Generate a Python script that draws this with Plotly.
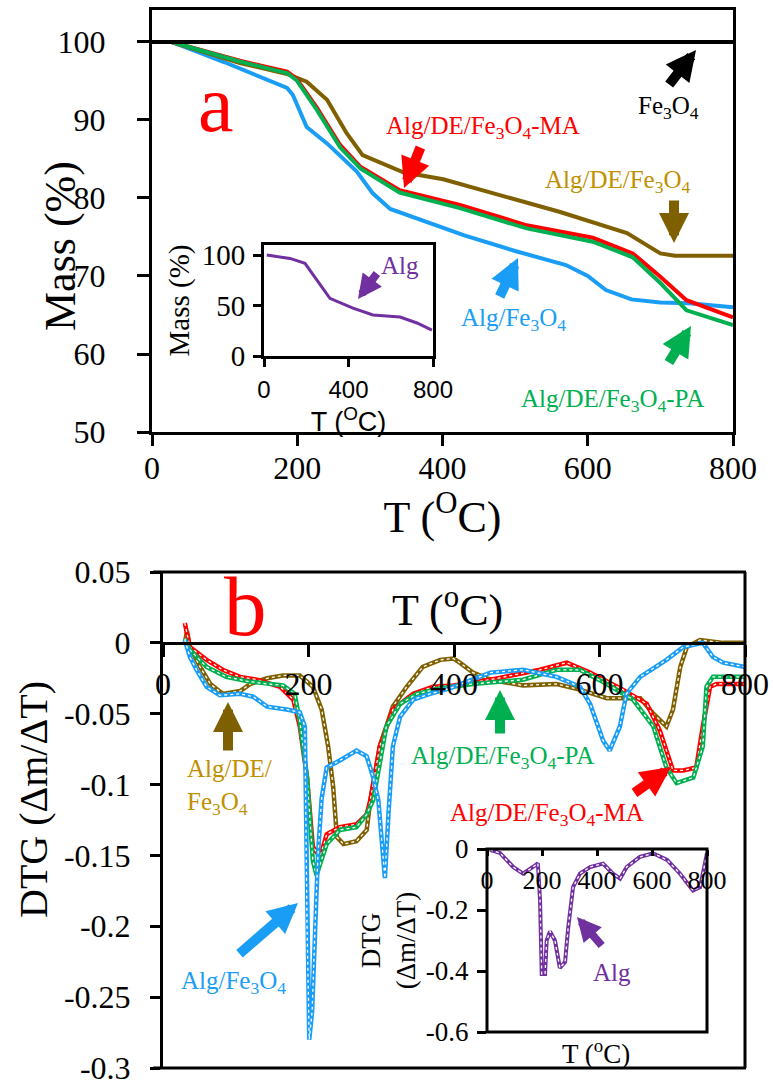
import plotly.graph_objects as go

W, H = 773, 1082


def fx(p):
    return p / W


def fy(p):
    return 1 - p / H


# ---------------- data: panel a (TGA, Mass %) ----------------
T_fe = [0, 100, 200, 300, 400, 500, 600, 700, 800]
M_fe = [100, 100, 100, 100, 100, 100, 100, 100, 100]

T_blue_a = [27, 100, 186, 194, 213, 241, 282, 304, 328, 380, 430, 500, 570, 600, 625, 660, 700, 740, 800]
M_blue_a = [100, 97.4, 94.1, 93.2, 89.1, 87.0, 83.4, 80.6, 78.6, 76.8, 75.2, 73.2, 71.4, 70.0, 68.2, 67.0, 66.6, 66.5, 66.0]

T_brown_a = [27, 121, 186, 213, 241, 268, 290, 346, 401, 470, 562, 654, 700, 720, 800]
M_brown_a = [100, 97.3, 95.9, 94.9, 92.6, 88.3, 85.5, 83.3, 82.4, 80.6, 78.2, 75.5, 72.9, 72.6, 72.6]

T_rg_a = [27, 121, 186, 199, 227, 259, 287, 341, 424, 516, 607, 662, 700, 736, 800]
M_red_a = [100, 97.6, 96.2, 95.3, 91.6, 86.8, 84.0, 81.0, 79.1, 76.5, 74.9, 72.9, 69.9, 66.9, 64.7]
M_green_a = [100, 97.5, 96.0, 95.1, 91.3, 86.5, 83.8, 80.7, 78.7, 76.1, 74.4, 72.4, 69.1, 65.6, 63.7]

T_alg_a = [13, 123, 194, 249, 312, 421, 516, 644, 724, 795]
M_alg_a = [100, 96.7, 91.8, 75.2, 57.1, 47.5, 40.6, 38.6, 32.7, 25.7]

# ---------------- data: panel b (DTG) ----------------
T_blue_b = [30, 37, 46, 60, 78, 106, 124, 143, 170, 188, 195, 198, 201, 205, 209, 213, 218, 225, 243, 266, 280,
            289, 296, 305, 310, 316, 326, 344, 367, 395, 450, 495, 541, 573, 587, 605, 614, 628, 637, 656, 692,
            715, 742, 756, 770, 800]
D_blue_b = [0.002, -0.010, -0.019, -0.031, -0.037, -0.036, -0.038, -0.045, -0.047, -0.049, -0.059, -0.20, -0.28,
            -0.26, -0.20, -0.15, -0.11, -0.088, -0.083, -0.076, -0.080, -0.095, -0.111, -0.166, -0.12, -0.073,
            -0.052, -0.040, -0.036, -0.032, -0.021, -0.019, -0.024, -0.031, -0.043, -0.069, -0.076, -0.059,
            -0.036, -0.024, -0.012, -0.003, 0.000, -0.010, -0.014, -0.017]

T_brown_b = [30, 33, 37, 51, 65, 82, 106, 120, 143, 165, 188, 206, 218, 227, 234, 239, 248, 266, 280, 285, 298,
             316, 335, 357, 381, 399, 408, 426, 450, 495, 541, 573, 610, 656, 674, 692, 701, 711, 720, 738, 770, 800]
D_brown_b = [0.0, 0.008, -0.003, -0.017, -0.029, -0.036, -0.034, -0.029, -0.025, -0.023, -0.023, -0.031, -0.047,
             -0.073, -0.102, -0.137, -0.142, -0.140, -0.132, -0.111, -0.073, -0.045, -0.031, -0.017, -0.012,
             -0.011, -0.014, -0.021, -0.026, -0.030, -0.029, -0.033, -0.039, -0.039, -0.050, -0.059, -0.047,
             -0.017, -0.003, 0.002, 0.0, 0.0]

T_red_b = [30, 37, 60, 82, 106, 129, 161, 179, 188, 198, 206, 216, 225, 243, 266, 280, 285, 298, 316, 344, 371,
           399, 450, 518, 555, 587, 632, 665, 683, 701, 715, 733, 742, 752, 761, 800]
D_red_b = [0.014, -0.003, -0.012, -0.019, -0.024, -0.026, -0.031, -0.040, -0.059, -0.095, -0.144, -0.151, -0.135,
           -0.130, -0.128, -0.121, -0.111, -0.073, -0.047, -0.036, -0.031, -0.030, -0.026, -0.019, -0.014, -0.021,
           -0.033, -0.043, -0.062, -0.090, -0.090, -0.088, -0.059, -0.031, -0.029, -0.029]

T_green_b = [30, 37, 60, 87, 115, 143, 165, 181, 188, 198, 206, 211, 225, 243, 266, 280, 289, 307, 326, 349, 381,
             426, 495, 541, 573, 610, 646, 674, 692, 706, 729, 742, 747, 756, 800]
D_green_b = [0.003, -0.005, -0.017, -0.024, -0.027, -0.029, -0.030, -0.036, -0.055, -0.095, -0.154, -0.164, -0.142,
             -0.132, -0.130, -0.121, -0.111, -0.059, -0.043, -0.036, -0.032, -0.029, -0.026, -0.019, -0.019,
             -0.029, -0.040, -0.059, -0.088, -0.099, -0.095, -0.073, -0.031, -0.024, -0.024]

T_alg_b = [11, 47, 95, 131, 167, 185, 193, 199, 211, 217, 229, 247, 265, 284, 295, 313, 338, 375, 422, 458, 484,
           508, 556, 604, 655, 702, 749, 775, 800]
D_alg_b = [-0.003, -0.013, -0.059, -0.081, -0.059, -0.047, -0.17, -0.41, -0.41, -0.30, -0.27, -0.30, -0.39, -0.37,
           -0.26, -0.125, -0.081, -0.059, -0.048, -0.081, -0.097, -0.059, -0.026, -0.014, -0.036, -0.081, -0.136,
           -0.125, -0.014]

# ---------------- tick values / labels ----------------
xa_ticks = [0, 200, 400, 600, 800]
ya_ticks = [50, 60, 70, 80, 90, 100]
xia_ticks = [0, 400, 800]
yia_ticks = [0, 50, 100]
xb_ticks = [0, 200, 400, 600, 800]
yb_ticks = [0.05, 0, -0.05, -0.1, -0.15, -0.2, -0.25, -0.3]
yb_text = ["0.05", "0", "-0.05", "-0.1", "-0.15", "-0.2", "-0.25", "-0.3"]
xib_ticks = [0, 200, 400, 600, 800]
yib_ticks = [0, -0.2, -0.4, -0.6]
yib_text = ["0", "-0.2", "-0.4", "-0.6"]

SERIF = "Liberation Serif, Times New Roman, DejaVu Serif, serif"
SANS = "Liberation Sans, Arial, sans-serif"
BLUE = "#1A9EF5"
BROWN = "#7F6000"
BROWN_TXT = "#BF9000"
RED = "#FF0000"
GREEN = "#00B050"
PURPLE = "#7030A0"

YB_RANGE = [-0.3, 0.05]

fig = go.Figure()


def line(x, y, color, xa, ya, width=4):
    fig.add_trace(go.Scatter(x=x, y=y, mode="lines", line=dict(color=color, width=width),
                             xaxis=xa, yaxis=ya, hoverinfo="skip"))


def dtg(x, y, color, xa, ya, width=4.5):
    line(x, y, color, xa, ya, width)
    fig.add_trace(go.Scatter(x=x, y=y, mode="lines", line=dict(color="white", width=1.3, dash="dot"),
                             xaxis=xa, yaxis=ya, hoverinfo="skip"))


# panel a
line(T_blue_a, M_blue_a, BLUE, "x", "y")
line(T_brown_a, M_brown_a, BROWN, "x", "y")
line(T_rg_a, M_red_a, RED, "x", "y")
line(T_rg_a, M_green_a, GREEN, "x", "y")
line(T_fe, M_fe, "black", "x", "y")
# inset a
line(T_alg_a, M_alg_a, PURPLE, "x2", "y2", 3)
# panel b
dtg(T_brown_b, D_brown_b, BROWN, "x3", "y3")
dtg(T_red_b, D_red_b, RED, "x3", "y3")
dtg(T_green_b, D_green_b, GREEN, "x3", "y3")
dtg(T_blue_b, D_blue_b, BLUE, "x3", "y3")
# inset b
dtg(T_alg_b, D_alg_b, PURPLE, "x4", "y4", 4)

base = dict(showgrid=False, zeroline=False, linecolor="black", tickcolor="black", tickwidth=3,
            automargin=False, ticklabeloverflow="allow")
serif_tick = lambda s: dict(family=SERIF, size=s, color="black")

layout = dict(
    template="none",
    width=W, height=H, margin=dict(l=0, r=0, t=0, b=0, pad=0), autosize=False,
    paper_bgcolor="white", plot_bgcolor="rgba(0,0,0,0)", showlegend=False,
    font=dict(family=SERIF, color="black"),
    # ---- panel a
    xaxis=dict(base, domain=[fx(152), fx(733)], range=[0, 800], anchor="y", tickvals=xa_ticks,
               ticks="outside", ticklen=11, showline=True, linewidth=3, mirror=True,
               tickfont=serif_tick(32), ticklabelstandoff=-5,
               title=dict(text="T (<sup>O</sup>C)", font=dict(family=SERIF, size=44, color="black"), standoff=0)),
    yaxis=dict(base, domain=[fy(432), fy(10)], range=[50, 104.1], anchor="x", tickvals=ya_ticks,
               ticks="outside", ticklen=12, showline=True, linewidth=3, mirror=True,
               tickfont=serif_tick(32), ticklabelstandoff=25),
    xaxis5=dict(base, overlaying="x", anchor="y", range=[0, 800], tickvals=xa_ticks, ticks="inside",
                ticklen=9, showticklabels=False, showline=False),
    yaxis5=dict(base, overlaying="y", anchor="x", range=[50, 104.1], tickvals=ya_ticks, ticks="inside",
                ticklen=9, showticklabels=False, showline=False),
    # ---- inset a
    xaxis2=dict(base, domain=[fx(264), fx(433)], range=[0, 800], anchor="y2", tickvals=xia_ticks,
                ticks="outside", ticklen=8, showline=True, linewidth=3, mirror=True,
                tickfont=dict(family=SANS, size=24, color="black"), ticklabelstandoff=2,
                title=dict(text="T (<sup>O</sup>C)", font=dict(family=SANS, size=27, color="black"), standoff=0)),
    yaxis2=dict(base, domain=[fy(356), fy(245)], range=[0, 110], anchor="x2", tickvals=yia_ticks,
                ticks="outside", ticklen=8, showline=True, linewidth=3, mirror=True,
                tickfont=serif_tick(29), ticklabelstandoff=2,
                title=dict(text="Mass (%)", font=dict(family=SERIF, size=29, color="black"), standoff=4)),
    xaxis6=dict(base, overlaying="x2", anchor="y2", range=[0, 800], tickvals=xia_ticks, ticks="inside",
                ticklen=5, showticklabels=False, showline=False),
    yaxis6=dict(base, overlaying="y2", anchor="x2", range=[0, 110], tickvals=yia_ticks, ticks="inside",
                ticklen=8, showticklabels=False, showline=False),
    # ---- panel b
    xaxis3=dict(base, domain=[fx(163), fx(745)], range=[0, 800], anchor="free", position=fy(643),
                side="bottom", tickvals=xb_ticks, ticks="outside", ticklen=12, showline=True, linewidth=3,
                tickfont=serif_tick(32), ticklabelstandoff=0),
    yaxis3=dict(base, domain=[fy(1068), fy(572)], range=YB_RANGE, anchor="x3", tickvals=yb_ticks,
                ticktext=yb_text, ticks="outside", ticklen=10, showline=True, linewidth=3,
                tickfont=serif_tick(32), ticklabelstandoff=13),
    xaxis7=dict(base, overlaying="x3", anchor="free", position=fy(643), side="top", range=[0, 800],
                tickvals=xb_ticks, ticks="outside", ticklen=10, showticklabels=False, showline=False),
    yaxis7=dict(base, overlaying="y3", anchor="x3", range=YB_RANGE, tickvals=yb_ticks, ticks="inside",
                ticklen=7, showticklabels=False, showline=False),
    # ---- inset b
    xaxis4=dict(base, domain=[fx(487), fx(707)], range=[0, 800], anchor="free", position=fy(849),
                side="bottom", tickvals=xib_ticks, ticks="outside", ticklen=6, showline=False,
                tickfont=serif_tick(26), ticklabelstandoff=2),
    yaxis4=dict(base, domain=[fy(1032), fy(849)], range=[-0.6, 0], anchor="x4", tickvals=yib_ticks,
                ticktext=yib_text, ticks="outside", ticklen=9, showline=False,
                tickfont=serif_tick(27), ticklabelstandoff=3,
                title=dict(text="DTG<br>(\u0394m/\u0394T)", font=dict(family=SERIF, size=27, color="black"),
                           standoff=2)),
    xaxis8=dict(base, overlaying="x4", anchor="free", position=fy(849), side="top", range=[0, 800],
                tickvals=xib_ticks, ticks="outside", ticklen=6, showticklabels=False, showline=False),
    yaxis8=dict(base, overlaying="y4", anchor="x4", range=[-0.6, 0], tickvals=yib_ticks, ticks="inside",
                ticklen=6, showticklabels=False, showline=False),
)
fig.update_layout(**layout)

# frames (panel b outer frame, inset b box)
frame = dict(color="black", width=3)
shapes = [
    dict(type="line", xref="paper", yref="paper", x0=fx(153), x1=fx(746), y0=fy(572), y1=fy(572), line=frame),
    dict(type="line", xref="paper", yref="paper", x0=fx(745), x1=fx(745), y0=fy(572), y1=fy(1068), line=frame),
    dict(type="line", xref="paper", yref="paper", x0=fx(153), x1=fx(746), y0=fy(1068), y1=fy(1068), line=frame),
    dict(type="rect", xref="paper", yref="paper", x0=fx(487), x1=fx(707), y0=fy(1032), y1=fy(849), line=frame),
]
fig.update_layout(shapes=shapes)

FE = "Fe<sub>3</sub>O<sub>4</sub>"


def label(text, cx, cy, color, size=25, xanchor="center", align="center", angle=0):
    fig.add_annotation(text=text, x=fx(cx), y=fy(cy), xref="paper", yref="paper", showarrow=False,
                       xanchor=xanchor, yanchor="middle", align=align, textangle=angle,
                       font=dict(family=SERIF, size=size, color=color))


def arrow(head, tail, color, width=10, size=0.6):
    fig.add_annotation(text="", x=fx(head[0]), y=fy(head[1]), xref="paper", yref="paper",
                       ax=tail[0] - head[0], ay=tail[1] - head[1], axref="pixel", ayref="pixel",
                       showarrow=True, arrowhead=2, arrowsize=size, arrowwidth=width, arrowcolor=color)


# axis titles placed as text
label("Mass (%)", 60, 246, "black", 44, angle=-90)
label("DTG (\u0394m/\u0394T)", 33, 800, "black", 40, angle=-90)
label("T (<sup>o</sup>C)", 448, 607, "black", 44)
label("T (<sup>o</sup>C)", 596, 1052, "black", 27)

# panel a labels
label("a", 216, 104, RED, 80)
label(FE, 668, 107, "black")
label("Alg/DE/" + FE + "-MA", 483, 128, RED)
label("Alg/DE/" + FE, 618, 181, BROWN_TXT)
label("Alg/" + FE, 513, 320, BLUE)
label("Alg/DE/" + FE + "-PA", 612, 400, GREEN)
label("Alg", 400, 265, PURPLE)
arrow((696, 50), (668, 86), "black")
arrow((404, 188), (421, 146), RED)
arrow((674, 243), (674, 199), BROWN)
arrow((518, 258), (499, 298), BLUE)
arrow((691, 326), (668, 364), GREEN)
arrow((358, 299), (378, 272), PURPLE, 8, 0.6)

# panel b labels
label("b", 245, 606, RED, 85)
label("Alg/DE/<br>" + FE, 185, 787, BROWN_TXT, xanchor="left", align="left")
label("Alg/DE/" + FE + "-PA", 502, 757, GREEN)
label("Alg/DE/" + FE + "-MA", 547, 814, RED)
label("Alg/" + FE, 233, 982, BLUE)
label("Alg", 612, 972, PURPLE)
arrow((228, 702), (228, 752), BROWN)
arrow((500, 690), (500, 735), GREEN)
arrow((671, 767), (633, 794), RED)
arrow((298, 903), (238, 955), BLUE)
arrow((577, 917), (603, 947), PURPLE, 8, 0.6)

fig.write_html("out.html", config={"displayModeBar": False},
               post_script="document.body.style.margin='0px';document.body.style.padding='0px';")
